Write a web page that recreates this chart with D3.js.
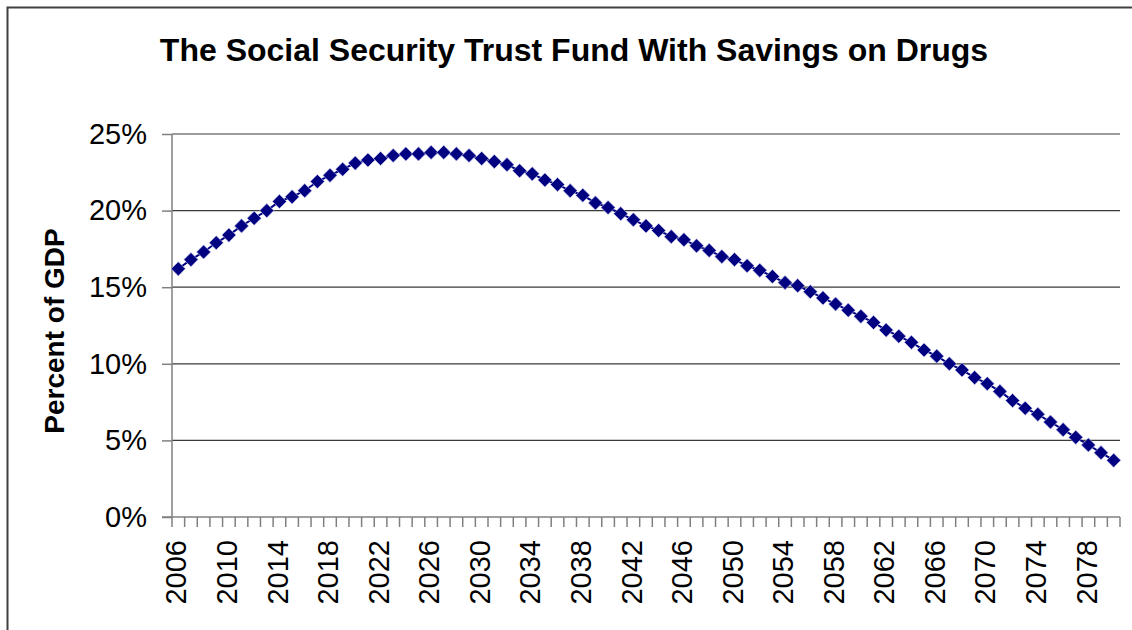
<!DOCTYPE html>
<html>
<head>
<meta charset="utf-8">
<script src="https://cdn.jsdelivr.net/npm/d3@7"></script>
<style>
  body { margin: 0; background: #fff; }
  svg { display: block; font-family: "Liberation Sans", Arial, sans-serif; }
</style>
</head>
<body>
<div id="chart"></div>
<script>
// data (percent of GDP)
const years = d3.range(2006, 2081)
const values = [
  16.2, 16.8, 17.3, 17.9, 18.4, 19.0, 19.5, 20.0, 20.6, 20.9,
  21.3, 21.9, 22.3, 22.7, 23.1, 23.3, 23.4, 23.6, 23.7, 23.7,
  23.8, 23.8, 23.7, 23.6, 23.4, 23.2, 23.0, 22.6, 22.4, 22.0,
  21.7, 21.3, 21.0, 20.5, 20.2, 19.8, 19.4, 19.0, 18.7, 18.3,
  18.1, 17.7, 17.4, 17.0, 16.8, 16.4, 16.1, 15.7, 15.3, 15.1,
  14.7, 14.3, 13.9, 13.5, 13.1, 12.7, 12.2, 11.8, 11.4, 10.9,
  10.5, 10.0, 9.6, 9.1, 8.7, 8.2, 7.6, 7.1, 6.7, 6.2,
  5.7, 5.2, 4.7, 4.2, 3.7
]
const yTicks = [0, 5, 10, 15, 20, 25]
const labelYears = years.filter(y => (y - 2006) % 4 === 0)
const title = "The Social Security Trust Fund With Savings on Drugs"
const yLabel = "Percent of GDP"

const dataset = years.map((y, i) => ({year: y, value: values[i]}))

const width = 1132
let dimensions = {
  width: width,
  height: 630,
  margin: {top: 134, right: 12, bottom: 113, left: 172},
}
dimensions.boundedWidth = dimensions.width - dimensions.margin.left - dimensions.margin.right
dimensions.boundedHeight = dimensions.height - dimensions.margin.top - dimensions.margin.bottom

const wrapper = d3.select("#chart")
  .append("svg")
  .attr("width", dimensions.width)
  .attr("height", dimensions.height)

// outer frame (runs off the right and bottom edges)
wrapper.append("rect")
  .attr("x", 7.5)
  .attr("y", 7.5)
  .attr("width", 1140)
  .attr("height", 660)
  .attr("fill", "none")
  .attr("stroke", "#404040")
  .attr("stroke-width", 2)

wrapper.append("text")
  .attr("x", 574)
  .attr("y", 61)
  .attr("text-anchor", "middle")
  .style("font-size", "32px")
  .style("font-weight", "bold")
  .text(title)

const bounds = wrapper.append("g")
  .attr("transform", `translate(${dimensions.margin.left},${dimensions.margin.top})`)

const xScale = d3.scaleBand()
  .domain(years)
  .range([0, dimensions.boundedWidth])

const yScale = d3.scaleLinear()
  .domain([0, 25])
  .range([dimensions.boundedHeight, 0])

// gridlines
bounds.append("g")
  .selectAll("line")
  .data(yTicks.filter(d => d > 0))
  .join("line")
  .attr("x1", 0)
  .attr("x2", dimensions.boundedWidth)
  .attr("y1", d => yScale(d))
  .attr("y2", d => yScale(d))
  .attr("stroke", "#3a3a3a")
  .attr("stroke-width", 1.2)

// y axis
const yAxis = bounds.append("g")
  .call(d3.axisLeft(yScale).tickValues(yTicks).tickSize(10).tickPadding(15).tickFormat(d => d + "%"))
yAxis.select(".domain").remove()
yAxis.selectAll(".tick line").attr("stroke", "#808080").attr("stroke-width", 1.5)
yAxis.selectAll("text")
  .attr("fill", "#000")
  .style("font-size", "29px")
  .attr("font-family", null)
bounds.append("line")
  .attr("x1", 0).attr("x2", 0)
  .attr("y1", 0).attr("y2", dimensions.boundedHeight)
  .attr("stroke", "#808080")
  .attr("stroke-width", 1.5)

// x axis: ticks between categories, labels every 4 years
const xAxis = bounds.append("g")
  .attr("transform", `translate(0,${dimensions.boundedHeight})`)
xAxis.append("line")
  .attr("x1", -10).attr("x2", dimensions.boundedWidth)
  .attr("stroke", "#808080")
  .attr("stroke-width", 1.5)
xAxis.selectAll(".xtick")
  .data(years.map(y => xScale(y)).concat([dimensions.boundedWidth]))
  .join("line")
  .attr("class", "xtick")
  .attr("x1", d => d).attr("x2", d => d)
  .attr("y1", 0).attr("y2", 10)
  .attr("stroke", "#808080")
  .attr("stroke-width", 1.5)
xAxis.selectAll(".xlabel")
  .data(labelYears)
  .join("text")
  .attr("class", "xlabel")
  .attr("transform", d => `translate(${xScale(d) + xScale.bandwidth() / 2 - 2},23) rotate(-90)`)
  .attr("text-anchor", "end")
  .attr("dy", "0.35em")
  .style("font-size", "29px")
  .text(d => d)

// y label
wrapper.append("text")
  .attr("transform", "translate(64,331) rotate(-90)")
  .attr("text-anchor", "middle")
  .style("font-size", "28px")
  .style("font-weight", "bold")
  .text(yLabel)

// series
const xAccessor = d => xScale(d.year) + xScale.bandwidth() / 2
const yAccessor = d => yScale(d.value)

const lineGenerator = d3.line()
  .x(xAccessor)
  .y(yAccessor)
bounds.append("path")
  .attr("d", lineGenerator(dataset))
  .attr("fill", "none")
  .attr("stroke", "#000080")
  .attr("stroke-width", 2)

const diamond = d3.symbol().type(d3.symbolSquare).size(100)
bounds.selectAll(".dot")
  .data(dataset)
  .join("path")
  .attr("class", "dot")
  .attr("d", diamond)
  .attr("transform", d => `translate(${xAccessor(d)},${yAccessor(d)}) rotate(45)`)
  .attr("fill", "#000080")
  .attr("stroke", "#c8c8ee")
  .attr("stroke-width", 0.6)
</script>
</body>
</html>
